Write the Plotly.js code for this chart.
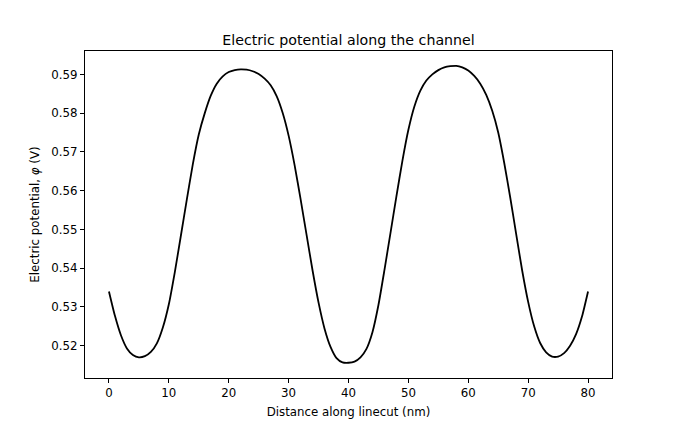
<!DOCTYPE html>
<html>
<head>
<meta charset="utf-8">
<script src="https://cdn.plot.ly/plotly-3.0.1.min.js"></script>
<style>html,body{margin:0;padding:0;background:#fff;}#plot{width:680px;height:425px;}</style>
</head>
<body>
<div id="plot"></div>
<script>
const distance_nm = [
  0,1,2,3,4,5,6,7,8,9,10,11,12,13,14,15,16,17,18,19,20,
  21,22,23,24,25,26,27,28,29,30,31,32,33,34,35,36,37,38,39,40,
  41,42,43,44,45,46,47,48,49,50,51,52,53,54,55,56,57,58,59,60,
  61,62,63,64,65,66,67,68,69,70,71,72,73,74,75,76,77,78,79,80
];
const potential_V = [
  0.5340,0.5277,0.5227,0.5193,0.5176,0.5170,0.5173,0.5184,0.5206,0.5247,0.5307,
  0.5390,0.5483,0.5577,0.5668,0.5745,0.5800,0.5845,0.5876,0.5895,0.5906,
  0.5911,0.5913,0.5912,0.5908,0.5901,0.5889,0.5872,0.5844,0.5801,0.5742,
  0.5666,0.5578,0.5486,0.5394,0.5311,0.5244,0.5197,0.5168,0.5157,0.5156,
  0.5159,0.5170,0.5192,0.5235,0.5305,0.5395,0.5490,0.5585,0.5677,0.5757,
  0.5817,0.5858,0.5884,0.5900,0.5911,0.5918,0.5921,0.5922,0.5918,0.5910,
  0.5896,0.5876,0.5847,0.5806,0.5750,0.5672,0.5583,0.5488,0.5394,0.5313,
  0.5250,0.5207,0.5183,0.5172,0.5172,0.5181,0.5200,0.5230,0.5276,0.5340
];
const xTicks = [0,10,20,30,40,50,60,70,80];
const yTicks = [0.52,0.53,0.54,0.55,0.56,0.57,0.58,0.59];

const font = {family: 'DejaVu Sans, sans-serif', size: 11.8, color: '#000'};

Plotly.newPlot('plot', [{
  x: distance_nm,
  y: potential_V,
  type: 'scatter',
  mode: 'lines',
  line: {color: '#000', width: 1.8, shape: 'spline', smoothing: 0.6},
  hoverinfo: 'skip'
}], {
  width: 680, height: 425,
  margin: {l: 85, r: 68, t: 51, b: 47, pad: 0},
  paper_bgcolor: '#fff', plot_bgcolor: '#fff',
  font: font,
  showlegend: false,
  title: {text: 'Electric potential along the channel', font: {family: 'DejaVu Sans, sans-serif', size: 14.2, color: '#000'},
          x: 0.5, xref: 'paper', y: 1 - 40/425, yref: 'container', yanchor: 'middle', xanchor: 'center'},
  xaxis: {
    range: [-4, 84], tickvals: xTicks, ticktext: xTicks.map(String),
    showline: true, mirror: true, linecolor: '#000', linewidth: 1,
    ticks: 'outside', ticklen: 4, tickwidth: 1, tickcolor: '#000',
    showgrid: false, zeroline: false, tickfont: font,
    title: {text: 'Distance along linecut (nm)', font: font, standoff: 8}
  },
  yaxis: {
    range: [0.51167, 0.59603], tickvals: yTicks, ticktext: yTicks.map(v => v.toFixed(2)),
    showline: true, mirror: true, linecolor: '#000', linewidth: 1,
    ticks: 'outside', ticklen: 4, tickwidth: 1, tickcolor: '#000',
    showgrid: false, zeroline: false, tickfont: font,
    title: {text: 'Electric potential, <i>φ</i> (V)', font: font, standoff: 9}
  }
}, {staticPlot: true});
</script>
</body>
</html>
